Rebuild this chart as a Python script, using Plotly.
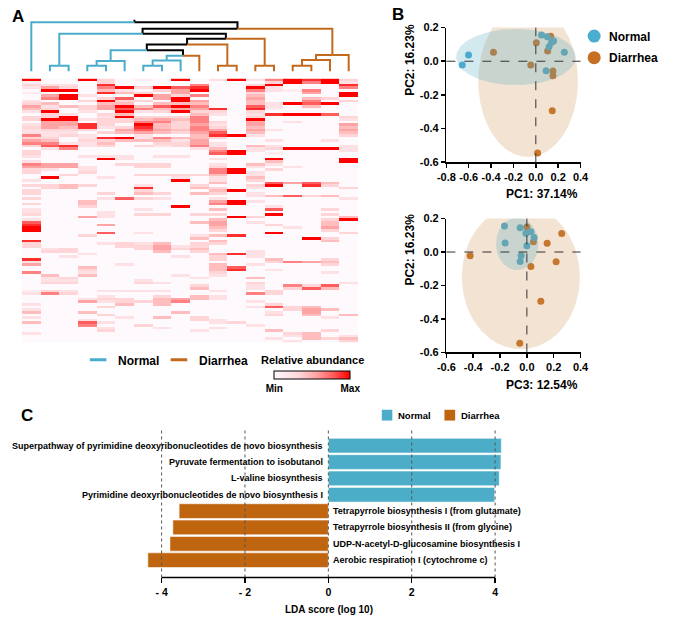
import numpy as np
import plotly.graph_objects as go

W, H = 696, 623
def fx(p):
    return p / W
def fy(p):
    return 1 - p / H

FONT = "Liberation Sans, Arial, sans-serif"
BLUE = "#49ACCB"
ORANGE = "#C2691E"
BAR_BLUE = "#4BADC8"
BAR_ORANGE = "#C0650F"

# ---------------- Panel A data ----------------
sample_group = ["Normal", "Normal", "Normal", "Normal", "Normal", "Normal", "Normal", "Normal", "Normal",
                "Diarrhea", "Diarrhea", "Diarrhea", "Diarrhea", "Diarrhea", "Diarrhea", "Diarrhea", "Diarrhea", "Diarrhea"]

# relative abundance (0 = min ... 9 = max), one string per pathway row, one digit per sample
heat_rows = [
    "900930109029269893", "100030000000039692", "322080000600390008", "253069397800920006",
    "099042035900621600", "100084305000300509", "059200953600400009", "069037059000500430",
    "200393309500400603", "340044044400429790", "524359479600720400", "430357645580810000",
    "290209239330300000", "032034000420289970", "339029333600300003", "399233454600900002",
    "055033663630502000", "255830943520500005", "354823843630400004", "233305754650520005",
    "222034543570400004", "623200200489200003", "330289264430000000", "540334442500020020",
    "662240033520000000", "378230323620420002", "026000000240239992", "300000000069200002",
    "300000000079010000", "200222022000000000", "000092000020090009", "200000000000040009",
    "655003330020420000", "555200330030202000", "320200000069030000", "300300000069200000",
    "003000333340200000", "090020002020400000", "200000009020300000", "000000000040075740",
    "334300200300390830", "034000800430200003", "300000300049000000", "300030430430200000",
    "000000000000247340", "300027320020000002", "000400000059200000", "300400000069000000",
    "000300009000020000", "200000200040070030", "200020000000000000", "300020330330090030",
    "000520000009300004", "200000000040000039", "700000000450200040", "800050000050030040",
    "900000000040002050", "900000000030000030", "000070200000090003", "000300000248000000",
    "000000000400000930", "800000000040000040", "300023240330000000", "300003352300000000",
    "023000353400000000", "033000040300200000", "000200000048200000", "002000002030200000",
    "800000000030040030", "200000000000036540", "500002000040200030", "000400000047000000",
    "000300000048020000", "600200000030000020", "040400002020000000", "023000000200400000",
    "022000200000000000", "033000320000300002", "000000000300206370", "000000000400203740",
    "132022220020030000", "263000000000630000", "000020030420000000", "000233045420000000",
    "000523346000200000", "200004040000030000", "000030000000273400", "200000000000003540",
    "400400004000020500", "000030000000030404", "200002040300000020", "000200000320000000",
    "400720000023000000", "000600300000200000", "000020020020000000", "000030000200040030",
    "200000000000003400", "000000000000002402", "000000000000020434", "000000000000002003",
]

# hierarchical clustering (scipy style: new node ids start at 18)
link_left = [1, 3, 19, 6, 21, 10, 12, 14, 25, 26, 22, 20, 29, 30, 18, 32, 0]
link_right = [2, 4, 5, 7, 8, 11, 13, 15, 16, 17, 9, 28, 23, 24, 31, 27, 33]
link_height = [17, 17, 32, 17, 33, 17, 17, 17, 35, 50, 48, 65, 82, 100, 115, 130, 150]
root_stub_height = 158

# ---------------- Panel B data ----------------
normal_pc1 = [-0.658, -0.602, 0.051, 0.104, 0.159, 0.118, 0.255, 0.092, 0.140]
normal_pc2 = [-0.022, 0.037, 0.156, 0.145, 0.121, 0.086, 0.054, -0.056, 0.112]
normal_pc3 = [-0.043, 0.000, -0.167, -0.050, 0.030, 0.054, -0.162, -0.050, -0.007]
diarrhea_pc1 = [-0.379, 0.005, -0.045, 0.106, 0.133, 0.153, 0.153, 0.147, 0.016]
diarrhea_pc2 = [0.053, 0.110, -0.022, 0.061, 0.149, -0.058, -0.086, -0.294, -0.545]
diarrhea_pc3 = [0.151, 0.260, -0.423, 0.049, 0.000, 0.218, 0.030, 0.104, -0.053]
# confidence ellipses: (centre x, centre y, semi-axis x, semi-axis y)
ell_pc12_normal = (-0.178, 0.025, 0.535, 0.167)
ell_pc12_diarrhea = (-0.069, -0.118, 0.446, 0.451)
ell_pc32_normal = (-0.072, 0.048, 0.158, 0.156)
ell_pc32_diarrhea = (-0.045, -0.150, 0.440, 0.430)
pc1_ticks = [-0.8, -0.6, -0.4, -0.2, 0.0, 0.2, 0.4]
pc3_ticks = [-0.6, -0.4, -0.2, 0.0, 0.2, 0.4]
pc2_ticks = [-0.6, -0.4, -0.2, 0.0, 0.2]

# ---------------- Panel C data ----------------
pathways = [
    "Superpathway of pyrimidine deoxyribonucleotides de novo biosynthesis",
    "Pyruvate fermentation to isobutanol",
    "L-valine biosynthesis",
    "Pyrimidine deoxyribonucleotides de novo biosynthesis I",
    "Tetrapyrrole biosynthesis I (from glutamate)",
    "Tetrapyrrole biosynthesis II (from glycine)",
    "UDP-N-acetyl-D-glucosamine biosynthesis I",
    "Aerobic respiration I (cytochrome c)",
]
lda_score = [4.15, 4.14, 4.10, 3.99, -3.58, -3.73, -3.80, -4.33]
lda_group = ["Normal", "Normal", "Normal", "Normal", "Diarrhea", "Diarrhea", "Diarrhea", "Diarrhea"]
lda_ticks = [-4, -2, 0, 2, 4]
lda_ticktext = ["- 4", "- 2", "0", "2", "4"]

# ======================================================
fig = go.Figure()

# ---- heatmap ----
z = []
for r in heat_rows:
    assert len(r) == 18, r
    z.append([int(c) for c in r])
fig.add_trace(go.Heatmap(
    z=z, x=list(range(18)), y=list(range(len(z))), zmin=0, zmax=9,
    colorscale=[[0, "#fdf9fc"], [0.33, "#ffd6d9"], [0.56, "#ffa3a3"], [0.78, "#ff5c5c"], [1, "#ff0000"]],
    xaxis="x", yaxis="y", hoverinfo="skip",
    colorbar=dict(orientation="h", x=fx(311.3), xanchor="center", y=fy(371.7), yanchor="top",
                  len=76, lenmode="pixels", thickness=8, thicknessmode="pixels",
                  outlinewidth=1, outlinecolor="black", xpad=0, ypad=0,
                  tickvals=[0, 9], ticktext=["Min", "Max"], ticks="",
                  tickfont=dict(family=FONT, size=10, color="black", weight="bold")),
))

# ---- dendrogram ----
n = len(sample_group)
pos = {i: float(i) for i in range(n)}
hgt = {i: 0.0 for i in range(n)}
members = {i: {i} for i in range(n)}
def grp_color(mem):
    g = {sample_group[i] for i in mem}
    if g == {"Normal"}:
        return BLUE
    if g == {"Diarrhea"}:
        return ORANGE
    return "black"
segs = {BLUE: ([], []), ORANGE: ([], []), "black": ([], [])}
for k, (a, b, h) in enumerate(zip(link_left, link_right, link_height)):
    node = n + k
    pos[node] = (pos[a] + pos[b]) / 2
    hgt[node] = h
    members[node] = members[a] | members[b]
    for c in (a, b):
        xs, ys = segs[grp_color(members[c])]
        xs += [pos[c], pos[c], pos[node], None]
        ys += [hgt[c], h, h, None]
root = n + len(link_left) - 1
segs["black"][0].extend([pos[root], pos[root], None])
segs["black"][1].extend([hgt[root], root_stub_height, None])
for colr in ["black", BLUE, ORANGE]:
    xs, ys = segs[colr]
    fig.add_trace(go.Scatter(x=xs, y=ys, mode="lines", xaxis="x2", yaxis="y2",
                             line=dict(color=colr, width=2), hoverinfo="skip"))

# ---- PCA panels ----
def ellipse(p, n_pts=181):
    cx, cy, rx, ry = p
    t = np.linspace(0, 2 * np.pi, n_pts)
    return cx + rx * np.cos(t), cy + ry * np.sin(t)

PT_BLUE = "#4BADD0"
PT_ORANGE = "#C66E23"
for (xa, ya, nx, dx, en, ed) in [("x3", "y3", normal_pc1, diarrhea_pc1, ell_pc12_normal, ell_pc12_diarrhea),
                                 ("x4", "y4", normal_pc3, diarrhea_pc3, ell_pc32_normal, ell_pc32_diarrhea)]:
    fig.add_trace(go.Scatter(x=dx, y=diarrhea_pc2, mode="markers", xaxis=xa, yaxis=ya,
                             marker=dict(size=7, color=PT_ORANGE), hoverinfo="skip"))
    fig.add_trace(go.Scatter(x=nx, y=normal_pc2, mode="markers", xaxis=xa, yaxis=ya,
                             marker=dict(size=7, color=PT_BLUE), hoverinfo="skip"))
    ex, ey = ellipse(ed)
    fig.add_trace(go.Scatter(x=ex, y=ey, mode="lines", fill="toself", xaxis=xa, yaxis=ya,
                             line=dict(width=0, color="rgba(0,0,0,0)"),
                             fillcolor="rgba(203,143,79,0.25)", hoverinfo="skip"))
    ex, ey = ellipse(en)
    fig.add_trace(go.Scatter(x=ex, y=ey, mode="lines", fill="toself", xaxis=xa, yaxis=ya,
                             line=dict(width=0, color="rgba(0,0,0,0)"),
                             fillcolor="rgba(79,167,195,0.25)", hoverinfo="skip"))

# ---- LDA bars ----
bar_colors = [BAR_BLUE if g == "Normal" else BAR_ORANGE for g in lda_group]
fig.add_trace(go.Bar(x=lda_score, y=list(range(len(pathways))), orientation="h",
                     xaxis="x5", yaxis="y5", width=0.9,
                     marker=dict(color=bar_colors, line=dict(color="rgba(255,255,255,0.7)", width=0.8)),
                     hoverinfo="skip"))

# ======================================================
tickfont_b = dict(family=FONT, size=11, color="black", weight="bold")
def fmt(v):
    return "%.1f" % v if abs(v) > 1e-9 else "0.0"

pca_axis = dict(showline=True, linecolor="black", linewidth=1.5, ticks="outside", ticklen=4,
                tickwidth=1.5, tickcolor="black", showgrid=False, zeroline=False,
                tickfont=tickfont_b, fixedrange=True)

fig.update_layout(
    width=W, height=H, margin=dict(l=0, r=0, t=0, b=0),
    paper_bgcolor="white", plot_bgcolor="rgba(0,0,0,0)", showlegend=False,
    xaxis=dict(domain=[fx(13.3), fx(358.3)], range=[-0.5, 17.5], visible=False, anchor="y"),
    yaxis=dict(domain=[fy(343), fy(74)], range=[len(z) - 0.5, -0.5], visible=False, anchor="x"),
    xaxis2=dict(domain=[fx(13.3), fx(358.3)], range=[-0.5, 17.5], visible=False, anchor="y2"),
    yaxis2=dict(domain=[fy(66.7), fy(13.3)], range=[0, 160], visible=False, anchor="x2"),
    xaxis3=dict(pca_axis, domain=[fx(449), fx(586.7)], range=[-0.8, 0.4], anchor="y3",
                tickvals=pc1_ticks, ticktext=[fmt(v) for v in pc1_ticks]),
    yaxis3=dict(pca_axis, domain=[fy(159.3), fy(22)], range=[-0.6, 0.2], anchor="x3",
                tickvals=pc2_ticks, ticktext=[fmt(v) for v in pc2_ticks]),
    xaxis4=dict(pca_axis, domain=[fx(449), fx(586.7)], range=[-0.6, 0.4], anchor="y4",
                tickvals=pc3_ticks, ticktext=[fmt(v) for v in pc3_ticks]),
    yaxis4=dict(pca_axis, domain=[fy(353.3), fy(216.7)], range=[-0.6, 0.2], anchor="x4",
                tickvals=pc2_ticks, ticktext=[fmt(v) for v in pc2_ticks]),
    xaxis5=dict(domain=[fx(137.4), fx(509.7)], range=[-4.45, 4.25], anchor="y5",
                showline=False, showgrid=False, zeroline=False, ticks="outside", ticklen=5,
                tickwidth=1.5, tickcolor="black", tickvals=lda_ticks, ticktext=lda_ticktext,
                tickfont=dict(family=FONT, size=10.5, color="black", weight="bold")),
    yaxis5=dict(domain=[fy(582.7), fy(432)], range=[8.06, -0.98], anchor="x5", visible=False),
    bargap=0.1,
)

shapes = []
ann = []
# dashed zero lines in PCA panels
for xa, ya in [("x3", "y3"), ("x4", "y4")]:
    shapes.append(dict(type="line", xref=xa, yref=ya + " domain", x0=0, x1=0, y0=0, y1=1,
                       line=dict(color="#333", width=1, dash="dash"), layer="above"))
    shapes.append(dict(type="line", xref=xa + " domain", yref=ya, x0=0, x1=1, y0=0, y1=0,
                       line=dict(color="#333", width=1, dash="dash"), layer="above"))
# LDA dotted grid + axis line
for v in lda_ticks:
    shapes.append(dict(type="line", xref="x5", yref="y5 domain", x0=v, x1=v, y0=0, y1=1,
                       line=dict(color="#555", width=1, dash="dot"), layer="above"))
shapes.append(dict(type="line", xref="x5", yref="y5 domain", x0=lda_ticks[0], x1=lda_ticks[-1],
                   y0=0, y1=0, line=dict(color="black", width=1.5)))

# pathway labels
for i, (name, s) in enumerate(zip(pathways, lda_score)):
    ann.append(dict(x=0, y=i, xref="x5", yref="y5", text=name, showarrow=False,
                    xanchor="right" if s > 0 else "left", yanchor="middle",
                    xshift=-3 if s > 0 else 3,
                    font=dict(family=FONT, size=9, color="black", weight="bold")))

def label(text, x, y, size=12, xanchor="left", angle=0):
    ann.append(dict(x=fx(x), y=fy(y), xref="paper", yref="paper", text=text, showarrow=False,
                    xanchor=xanchor, yanchor="middle", textangle=angle,
                    font=dict(family=FONT, size=size, color="black", weight="bold")))

# panel letters
label("A", 1, 11, size=17)
label("B", 391, 9, size=17)
label("C", 10, 417.5, size=17)

# PCA axis titles
label("PC1: 37.14%", 547, 192, size=12, xanchor="center")
label("PC2: 16.23%", 411.5, 55, size=12, xanchor="center", angle=-90)
label("PC3: 12.54%", 547, 386, size=12, xanchor="center")
label("PC2: 16.23%", 412, 248, size=12, xanchor="center", angle=-90)
label("LDA score (log 10)", 328.3, 615, size=10, xanchor="center")

# panel A legend
shapes.append(dict(type="line", xref="paper", yref="paper", x0=fx(83), x1=fx(100), y0=fy(360.7), y1=fy(360.7),
                   line=dict(color=BLUE, width=3)))
label("Normal", 110, 361.5)
shapes.append(dict(type="line", xref="paper", yref="paper", x0=fx(166), x1=fx(183), y0=fy(360.7), y1=fy(360.7),
                   line=dict(color=ORANGE, width=3)))
label("Diarrhea", 193, 361.5)
label("Relative abundance", 311.3, 361, size=11, xanchor="center")

# panel B legend
for colr, yy, txt in [(PT_BLUE, 30.7, "Normal"), (PT_ORANGE, 52.7, "Diarrhea")]:
    shapes.append(dict(type="circle", xref="paper", yref="paper", xsizemode="pixel", ysizemode="pixel",
                       xanchor=fx(600.7), yanchor=fy(yy), x0=-6.5, x1=6.5, y0=-6.5, y1=6.5,
                       fillcolor=colr, line=dict(width=0)))
    label(txt, 614, yy + 0.5)

# panel C legend
shapes.append(dict(type="rect", xref="paper", yref="paper", x0=fx(382.7), x1=fx(393.5), y0=fy(422.7), y1=fy(411.7),
                   fillcolor=BAR_BLUE, line=dict(width=0)))
label("Normal", 397.7, 418, size=9.5)
shapes.append(dict(type="rect", xref="paper", yref="paper", x0=fx(447), x1=fx(458), y0=fy(422.7), y1=fy(411.7),
                   fillcolor=BAR_ORANGE, line=dict(width=0)))
label("Diarrhea", 462.3, 418, size=9.5)

fig.update_layout(shapes=shapes, annotations=ann)
fig.write_html("out.html", config={"displayModeBar": False, "staticPlot": True},
               post_script="document.body.style.margin='0';document.body.style.padding='0';"
                           "document.body.style.overflow='hidden';")
